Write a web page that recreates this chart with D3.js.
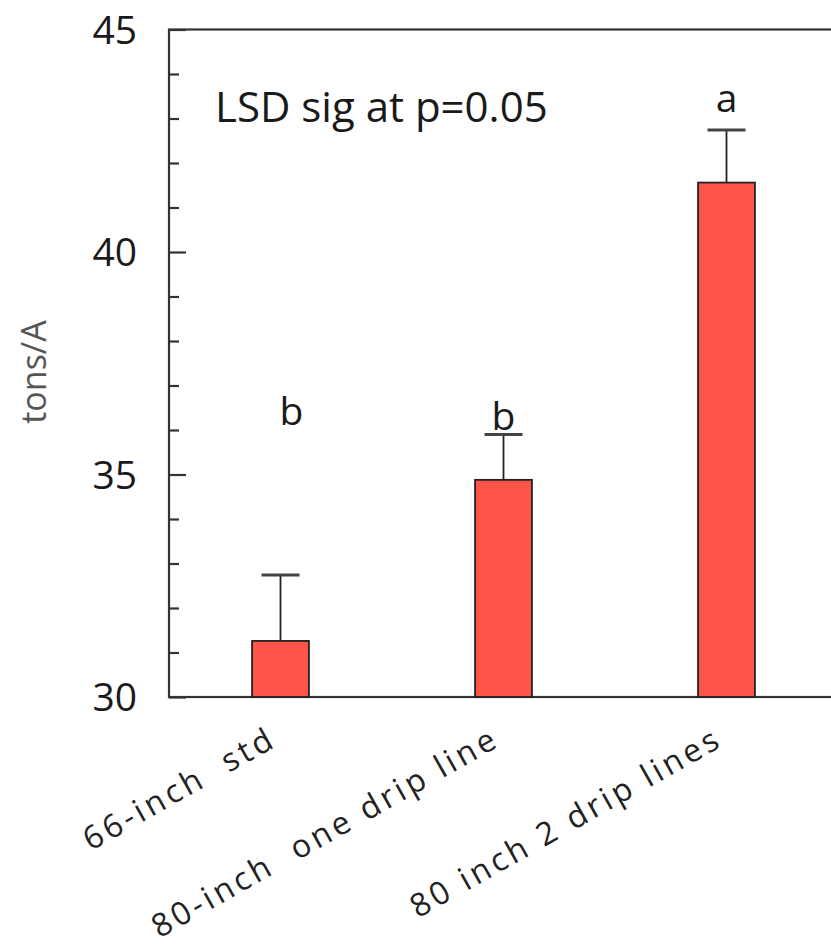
<!DOCTYPE html>
<html><head><meta charset="utf-8">
<script src="https://cdn.jsdelivr.net/npm/d3@7/dist/d3.min.js"></script>
<style>body{margin:0;background:#fff}svg{display:block}text{white-space:pre}</style>
</head><body>
<script>
const categories = ["66-inch  std", "80-inch  one drip line", "80 inch 2 drip lines"];
const means = [31.26, 34.88, 41.56];
const errUpper = [32.74, 35.9, 42.74];
const letters = ["b", "b", "a"];
const letterY = [36.11, 36.0, 43.15];
const majorTicks = [30, 35, 40, 45];
const minorTicks = [31,32,33,34,36,37,38,39,41,42,43,44];

const W = 831, H = 948;
const pLeft = 169, pTop = 29.5, pBottom = 697, pRight = 838;
const svg = d3.select("body").append("svg").attr("width", W).attr("height", H);
const font = "'Open Sans', 'DejaVu Sans', sans-serif";

const y = d3.scaleLinear().domain([30, 45]).range([pBottom, pTop]);
const x = d3.scaleBand().domain(categories).range([pLeft, pRight]).paddingInner(0.745).paddingOuter(0.3725);

// frame
svg.append("rect").attr("x", pLeft).attr("y", pTop).attr("width", pRight - pLeft).attr("height", pBottom - pTop)
  .attr("fill", "none").attr("stroke", "#333").attr("stroke-width", 2.2);

// y axis ticks (inward)
const yAxis = d3.axisRight(y).tickValues(majorTicks).tickSize(17).tickFormat("");
const gy = svg.append("g").attr("transform", `translate(${pLeft},0)`).call(yAxis);
gy.select(".domain").remove();
gy.selectAll(".tick line").attr("stroke", "#333").attr("stroke-width", 2.2);
const yMinor = d3.axisRight(y).tickValues(minorTicks).tickSize(10).tickFormat("");
const gm = svg.append("g").attr("transform", `translate(${pLeft},0)`).call(yMinor);
gm.select(".domain").remove();
gm.selectAll(".tick line").attr("stroke", "#333").attr("stroke-width", 2.2);

// tick labels
svg.selectAll("text.ytl").data(majorTicks).enter().append("text")
  .attr("class", "ytl").attr("x", 137).attr("y", d => y(d) + 14)
  .attr("text-anchor", "end").attr("font-family", font).attr("font-size", 39)
  .attr("fill", "#1a1a1a").text(d => d);

// y label
svg.append("text").attr("transform", "translate(46,372) rotate(-90)")
  .attr("text-anchor", "middle").attr("font-family", font).attr("font-size", 34)
  .attr("fill", "#555").text("tons/A");

// bars
const bw = x.bandwidth();
svg.selectAll("rect.bar").data(categories).enter().append("rect")
  .attr("class", "bar").attr("x", d => x(d)).attr("width", bw)
  .attr("y", (d, i) => y(means[i])).attr("height", (d, i) => pBottom - y(means[i]))
  .attr("fill", "#ff5449").attr("stroke", "#222").attr("stroke-width", 1.8);

// error bars
const cx = d => x(d) + bw / 2;
svg.selectAll("line.err").data(categories).enter().append("line")
  .attr("x1", cx).attr("x2", cx)
  .attr("y1", (d, i) => y(means[i])).attr("y2", (d, i) => y(errUpper[i]))
  .attr("stroke", "#222").attr("stroke-width", 1.8);
svg.selectAll("line.cap").data(categories).enter().append("line")
  .attr("x1", d => cx(d) - 19).attr("x2", d => cx(d) + 19)
  .attr("y1", (d, i) => y(errUpper[i])).attr("y2", (d, i) => y(errUpper[i]))
  .attr("stroke", "#444").attr("stroke-width", 3);

// letters
svg.selectAll("text.let").data(categories).enter().append("text")
  .attr("class", "let").attr("x", (d, i) => cx(d) + (i === 0 ? 11 : 0)).attr("y", (d, i) => y(letterY[i]))
  .attr("text-anchor", "middle").attr("font-family", font).attr("font-size", 39)
  .attr("fill", "#1a1a1a").text((d, i) => letters[i]);

// annotation
svg.append("text").attr("x", 215).attr("y", 122).attr("font-family", font).attr("font-size", 42)
  .attr("fill", "#1a1a1a").text("LSD sig at p=0.05");

// x labels
svg.selectAll("text.xl").data(categories).enter().append("text")
  .attr("class", "xl")
  .attr("transform", d => `translate(${cx(d) - 2},${pBottom + 48}) rotate(-29.5)`)
  .attr("text-anchor", "end").attr("font-family", font).attr("font-size", 32)
  .attr("letter-spacing", 3.6)
  .attr("fill", "#222").text(d => d);
</script>
</body></html>
